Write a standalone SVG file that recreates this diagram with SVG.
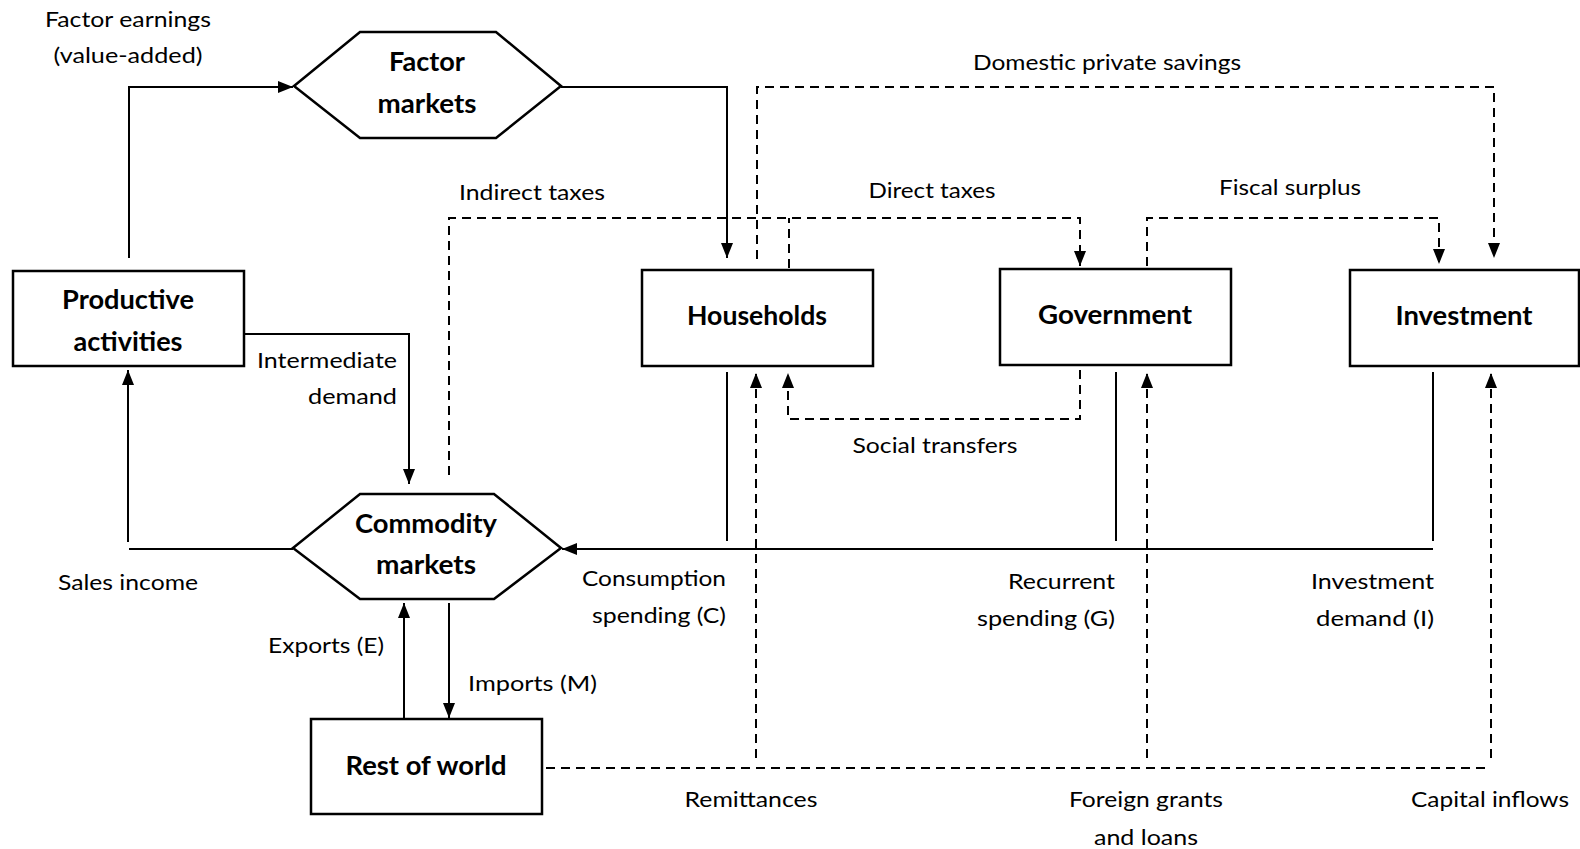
<svg xmlns="http://www.w3.org/2000/svg" width="1580" height="849" viewBox="0 0 1580 849">
<style>
.box{fill:#fff;stroke:#000;stroke-width:2.5}
.ln{fill:none;stroke:#000;stroke-width:2}
.ds{fill:none;stroke:#000;stroke-width:2;stroke-dasharray:9 6}
.t{font-family:Lato,"Liberation Sans",sans-serif;font-size:21.5px;fill:#000}
.b{font-family:Lato,"Liberation Sans",sans-serif;font-size:26px;font-weight:bold;fill:#000;text-anchor:middle}
.m{text-anchor:middle}
.e{text-anchor:end}
</style>
<defs>
<marker id="ar" markerUnits="userSpaceOnUse" markerWidth="15" markerHeight="12" refX="15" refY="6" orient="auto">
<path d="M0,0 L15,6 L0,12 z" fill="#000"/>
</marker>
</defs>
<g id="connectors">
<path class="ln" d="M129,258 V87 H293" marker-end="url(#ar)"/>
<path class="ln" d="M561,87 H727 V258" marker-end="url(#ar)"/>
<path class="ln" d="M245,334 H409 V484" marker-end="url(#ar)"/>
<path class="ln" d="M293,549 H129"/>
<path class="ln" d="M128,542 V370" marker-end="url(#ar)"/>
<path class="ln" d="M404,719 V603" marker-end="url(#ar)"/>
<path class="ln" d="M449,603 V718" marker-end="url(#ar)"/>
<path class="ln" d="M727,372 V541"/>
<path class="ln" d="M1116,372 V541"/>
<path class="ln" d="M1433,372 V541"/>
<path class="ln" d="M1433,549 H562" marker-end="url(#ar)"/>
<path class="ds" d="M449,475 V218 H1080 V266" marker-end="url(#ar)"/>
<path class="ds" d="M789,268 V218"/>
<path class="ds" d="M757,259 V87 H1494 V258" marker-end="url(#ar)"/>
<path class="ds" d="M1147,266 V218 H1439 V264" marker-end="url(#ar)"/>
<path class="ds" d="M1080,370 V419 H788 V373" marker-end="url(#ar)"/>
<path class="ds" d="M546,768 H1488"/>
<path class="ds" d="M756,758 V373" marker-end="url(#ar)"/>
<path class="ds" d="M1147,758 V373" marker-end="url(#ar)"/>
<path class="ds" d="M1491,758 V373" marker-end="url(#ar)"/>
</g>
<g id="labels">
<text class="t m" x="128" y="27" textLength="166" lengthAdjust="spacingAndGlyphs">Factor earnings</text>
<text class="t m" x="128" y="63" textLength="149" lengthAdjust="spacingAndGlyphs">(value-added)</text>
<text class="t m" x="1107" y="70" textLength="268" lengthAdjust="spacingAndGlyphs">Domestic private savings</text>
<text class="t m" x="532" y="200" textLength="146" lengthAdjust="spacingAndGlyphs">Indirect taxes</text>
<text class="t m" x="932" y="198" textLength="127" lengthAdjust="spacingAndGlyphs">Direct taxes</text>
<text class="t m" x="1290" y="195" textLength="142" lengthAdjust="spacingAndGlyphs">Fiscal surplus</text>
<text class="t e" x="397" y="368" textLength="140" lengthAdjust="spacingAndGlyphs">Intermediate</text>
<text class="t e" x="397" y="404" textLength="89" lengthAdjust="spacingAndGlyphs">demand</text>
<text class="t m" x="935" y="453" textLength="165" lengthAdjust="spacingAndGlyphs">Social transfers</text>
<text class="t m" x="128" y="590" textLength="140" lengthAdjust="spacingAndGlyphs">Sales income</text>
<text class="t e" x="726" y="586" textLength="144" lengthAdjust="spacingAndGlyphs">Consumption</text>
<text class="t e" x="726" y="623" textLength="134" lengthAdjust="spacingAndGlyphs">spending (C)</text>
<text class="t e" x="1115" y="589" textLength="107" lengthAdjust="spacingAndGlyphs">Recurrent</text>
<text class="t e" x="1115" y="626" textLength="138" lengthAdjust="spacingAndGlyphs">spending (G)</text>
<text class="t e" x="1434" y="589" textLength="123" lengthAdjust="spacingAndGlyphs">Investment</text>
<text class="t e" x="1434" y="626" textLength="118" lengthAdjust="spacingAndGlyphs">demand (I)</text>
<text class="t e" x="384" y="653" textLength="116" lengthAdjust="spacingAndGlyphs">Exports (E)</text>
<text class="t" x="468" y="691" textLength="129" lengthAdjust="spacingAndGlyphs">Imports (M)</text>
<text class="t m" x="751" y="807" textLength="133" lengthAdjust="spacingAndGlyphs">Remittances</text>
<text class="t m" x="1146" y="807" textLength="154" lengthAdjust="spacingAndGlyphs">Foreign grants</text>
<text class="t m" x="1146" y="845" textLength="104" lengthAdjust="spacingAndGlyphs">and loans</text>
<text class="t m" x="1490" y="807" textLength="158" lengthAdjust="spacingAndGlyphs">Capital inflows</text>
</g>
<g id="factor-markets">
<polygon class="box" points="294,86 360,32 496,32 561,86 496,138 360,138"/>
<text class="b" x="427" y="71" textLength="76" lengthAdjust="spacingAndGlyphs">Factor</text>
<text class="b" x="427" y="113" textLength="99" lengthAdjust="spacingAndGlyphs">markets</text>
</g>
<g id="productive-activities">
<rect class="box" x="13" y="271" width="231" height="95"/>
<text class="b" x="128" y="309" textLength="132" lengthAdjust="spacingAndGlyphs">Productive</text>
<text class="b" x="128" y="351" textLength="109" lengthAdjust="spacingAndGlyphs">activities</text>
</g>
<g id="households">
<rect class="box" x="642" y="270" width="231" height="96"/>
<text class="b" x="757" y="325" textLength="140" lengthAdjust="spacingAndGlyphs">Households</text>
</g>
<g id="government">
<rect class="box" x="1000" y="269" width="231" height="96"/>
<text class="b" x="1115" y="324" textLength="154" lengthAdjust="spacingAndGlyphs">Government</text>
</g>
<g id="investment">
<rect class="box" x="1350" y="270" width="229" height="96"/>
<text class="b" x="1464" y="325" textLength="137" lengthAdjust="spacingAndGlyphs">Investment</text>
</g>
<g id="commodity-markets">
<polygon class="box" points="293,548 360,494 494,494 561,548 494,599 360,599"/>
<text class="b" x="426" y="533" textLength="142" lengthAdjust="spacingAndGlyphs">Commodity</text>
<text class="b" x="426" y="574" textLength="100" lengthAdjust="spacingAndGlyphs">markets</text>
</g>
<g id="rest-of-world">
<rect class="box" x="311" y="719" width="231" height="95"/>
<text class="b" x="426" y="775" textLength="161" lengthAdjust="spacingAndGlyphs">Rest of world</text>
</g>
</svg>
